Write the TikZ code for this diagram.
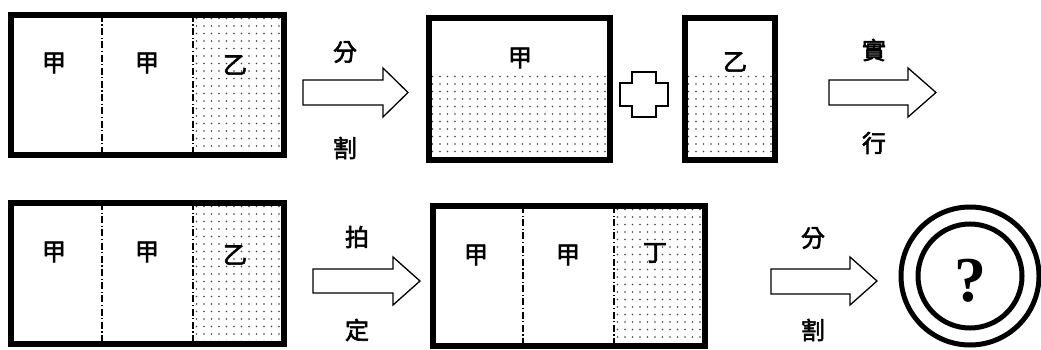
\documentclass[tikz,border=0pt]{standalone}
\usepackage{fontspec}
\setmainfont{Liberation Serif}
\newfontfamily\cjk{Noto Sans CJK TC}[FakeBold=2.5]
\newcommand\mydots[4]{%
  \begin{scope}
    \clip (#1,#2) rectangle (#3,#4);
    \pgfmathsetmacro\xa{#1+3.5}\pgfmathsetmacro\xb{#1+11}%
    \pgfmathsetmacro\ya{#2+3.5}\pgfmathsetmacro\yb{#2+11}%
    \foreach \x in {\xa,\xb,...,#3}{%
      \foreach \y in {\ya,\yb,...,#4}{%
        \fill[dotcol] (\x,\y) circle[radius=0.9];
      }%
    }%
  \end{scope}%
}
\begin{document}
\begin{tikzpicture}[x=1pt,y=-1pt,
  box/.style={line width=5.5pt},
  divider/.style={line width=1.4pt, dash pattern=on 7pt off 2.5pt on 1.2pt off 2.5pt},
  lbl/.style={font=\cjk\fontsize{24}{24}\selectfont, inner sep=0pt},
  outline/.style={line width=1.3pt, line join=miter, fill=white},
  dotcol/.style={black!75}]
\useasboundingbox (0,0) rectangle (1041,350);

% ---------- Row 1 ----------
% box 1
\mydots{193}{15}{284}{155}
\draw[divider] (102,15) -- (102,155);
\draw[divider] (193,15) -- (193,155);
\draw[box] (11,15) rectangle (284,155);
\node[lbl] (a1) at (54,63) {甲};
\node[lbl] (a2) at (147,63) {甲};
\node[lbl] (a3) at (235,65) {乙};

% arrow 1
\draw[outline] (303,80) -- (383,80) -- (383,68) -- (408,92.5) -- (383,117) -- (383,105) -- (303,105) -- cycle;
\node[lbl] (t1) at (345,52) {分};
\node[lbl] (b1) at (345,148) {割};

% box 2
\mydots{429}{73}{610}{160}
\draw[box] (429,18) rectangle (610,160);
\node[lbl] (c1) at (520,58) {甲};

% plus
\draw[outline] (632,72) -- (656,72) -- (656,83) -- (668,83) -- (668,106) -- (656,106) -- (656,117) -- (632,117) -- (632,106) -- (620,106) -- (620,83) -- (632,83) -- cycle;

% box 3
\mydots{685}{73}{775}{160}
\draw[box] (685,18) rectangle (775,160);
\node[lbl] (d1) at (735,62) {乙};

% arrow 2
\draw[outline] (829,80) -- (908,80) -- (908,68) -- (936,92.5) -- (908,117) -- (908,105) -- (829,105) -- cycle;
\node[lbl] (t2) at (874,50) {實};
\node[lbl] (b2) at (874,143) {行};

% ---------- Row 2 ----------
% box 4
\mydots{193}{203}{284}{344}
\draw[divider] (102,203) -- (102,344);
\draw[divider] (193,203) -- (193,344);
\draw[box] (11,203) rectangle (284,344);
\node[lbl] (e1) at (54,252) {甲};
\node[lbl] (e2) at (147,252) {甲};
\node[lbl] (e3) at (235,255) {乙};

% arrow 3
\draw[outline] (313,269) -- (393,269) -- (393,257) -- (420,281) -- (393,305) -- (393,293) -- (313,293) -- cycle;
\node[lbl] (t3) at (357,237) {拍};
\node[lbl] (b3) at (357,330) {定};

% box 5
\mydots{614}{206}{705}{346}
\draw[divider] (523,206) -- (523,346);
\draw[divider] (614,206) -- (614,346);
\draw[box] (433,206) rectangle (705,346);
\node[lbl] (f1) at (476,255) {甲};
\node[lbl] (f2) at (568,255) {甲};
\node[lbl] (f3) at (655,253) {丁};

% arrow 4
\draw[outline] (771,269) -- (850,269) -- (850,257) -- (877,281) -- (850,305) -- (850,294) -- (771,294) -- cycle;
\node[lbl] (t4) at (813,238) {分};
\node[lbl] (b4) at (813,330) {割};

% circles
\draw[line width=5pt] (970,276) circle[radius=69];
\draw[line width=5pt] (970,276) circle[radius=52];
\node[inner sep=0pt, font=\fontsize{64}{64}\selectfont\bfseries] (q) at (970,281) {?};
\end{tikzpicture}
\end{document}
